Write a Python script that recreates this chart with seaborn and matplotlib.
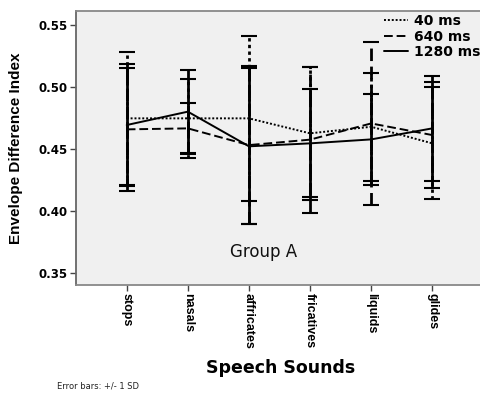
import numpy as np
import pandas as pd
import matplotlib
matplotlib.use("Agg")
import matplotlib.pyplot as plt
import seaborn as sns

# Envelope Difference Index by speech-sound class, Group A (mean +/- 1 SD)
sounds = ["stops", "nasals", "affricates", "fricatives", "liquids", "glides"]
durations = ["40 ms", "640 ms", "1280 ms"]

mean_40 = [0.4746, 0.4746, 0.4746, 0.4625, 0.4678, 0.4544]
mean_640 = [0.4657, 0.4665, 0.4530, 0.4574, 0.4705, 0.4611]
mean_1280 = [0.4692, 0.4800, 0.4520, 0.4544, 0.4576, 0.4665]

sd_40 = [0.0538, 0.0318, 0.0668, 0.0538, 0.0437, 0.0453]
sd_640 = [0.0498, 0.0207, 0.0641, 0.0590, 0.0655, 0.0431]
sd_1280 = [0.0493, 0.0336, 0.0630, 0.0436, 0.0367, 0.0423]

y_ticks = [0.35, 0.40, 0.45, 0.50, 0.55]

means = {"40 ms": mean_40, "640 ms": mean_640, "1280 ms": mean_1280}
sds = {"40 ms": sd_40, "640 ms": sd_640, "1280 ms": sd_1280}

df = pd.DataFrame({
    "sound": sounds * len(durations),
    "duration": np.repeat(durations, len(sounds)),
    "edi": mean_40 + mean_640 + mean_1280,
    "sd": sd_40 + sd_640 + sd_1280,
})

sns.set_theme(style="white")
plt.rcParams["font.family"] = ["DejaVu Sans"]
plt.rcParams.update({
    "text.color": "black",
    "axes.labelcolor": "black",
    "xtick.color": "black",
    "ytick.color": "black",
})

fig = plt.figure(figsize=(4.8, 3.93), dpi=100)
ax = fig.add_axes([76 / 480, 108 / 393, 407 / 480, 274 / 393])
ax.set_facecolor("#f0f0f0")

dash_styles = {"40 ms": (1, 1), "640 ms": (4.5, 2), "1280 ms": ""}
line_styles = {"40 ms": (0, (1.2, 1.2)), "640 ms": (0, (4.5, 2)), "1280 ms": "-"}

sns.lineplot(data=df, x="sound", y="edi", style="duration", style_order=durations,
             dashes=dash_styles, color="black", linewidth=1.4, sort=False,
             markers=False, ax=ax)

# +/- 1 SD error bars, one set per duration
for d in durations:
    eb = ax.errorbar(sounds, means[d], yerr=sds[d], fmt="none", ecolor="black",
                     elinewidth=2.0, capsize=5.5, capthick=1.5, zorder=3)
    for col in eb[2]:
        col.set_linestyle(line_styles[d])

ax.set_xlim(-0.83, 5.83)
ax.set_ylim(0.340, 0.5613)
ax.set_yticks(y_ticks)
ax.set_yticklabels([f"{v:.2f}" for v in y_ticks], fontsize=8.5, fontweight="bold")
ax.set_xticks(range(len(sounds)))
ax.set_xticklabels(sounds, rotation=-90, fontsize=9, fontweight="bold",
                   family=["Liberation Sans"], va="top", ha="center")

ax.tick_params(axis="both", which="major", direction="out", length=4, width=1,
               color="#444444", pad=2, left=True, bottom=True)
for side in ["top", "right", "bottom"]:
    ax.spines[side].set_color("#888888")
    ax.spines[side].set_linewidth(1.3)
ax.spines["left"].set_color("#666666")
ax.spines["left"].set_linewidth(1.3)

ax.set_ylabel("Envelope Difference Index", fontsize=11, fontweight="bold",
              family=["Liberation Sans"])
ax.set_xlabel("Speech Sounds", fontsize=12.5, fontweight="bold")
ax.yaxis.set_label_coords(-0.13, 0.5)
ax.xaxis.set_label_coords(0.503, -0.27)

ax.text(0.462, 0.12, "Group A", transform=ax.transAxes, fontsize=12,
        ha="center", va="center", color="#111111")

sns.move_legend(ax, loc="upper left", bbox_to_anchor=(384 / 480, 1 - 14 / 393),
                bbox_transform=fig.transFigure, title=None, frameon=False,
                fontsize=10, handlelength=1.75, handletextpad=0.4,
                labelspacing=0.12, borderpad=0, borderaxespad=0)
for t in ax.get_legend().get_texts():
    t.set_fontweight("bold")

fig.text(57 / 480, 1 - 386 / 393, "Error bars: +/- 1 SD", fontsize=6,
         ha="left", va="center", color="#222222")

fig.savefig("out.png", dpi=100)
